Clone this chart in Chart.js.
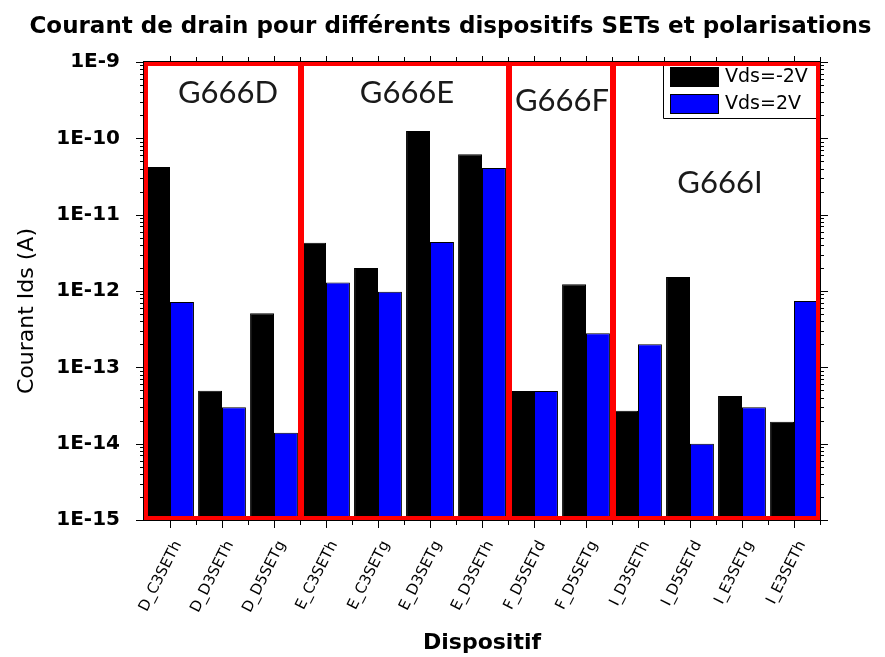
<!DOCTYPE html>
<html lang="fr">
<head>
  <meta charset="UTF-8">
  <title>Courant de drain</title>
  <script src="https://cdn.jsdelivr.net/npm/chart.js"></script>
  <style>
    body { margin: 0; background: #fff; }
    #wrap { width: 885px; height: 657px; }
  </style>
</head>
<body>
<div id="wrap">
  <canvas id="chart" width="885" height="657"></canvas>
</div>

<script>
// devices (x categories)
const devices = ['D_C3SETh', 'D_D3SETh', 'D_D5SETg', 'E_C3SETh', 'E_C3SETg', 'E_D3SETg', 'E_D3SETh',
                 'F_D5SETd', 'F_D5SETg', 'I_D3SETh', 'I_D5SETd', 'I_E3SETg', 'I_E3SETh'];

// drain current (A) for each bias
const idsNeg = [4.2e-11, 4.95e-14, 5.1e-13, 4.3e-12, 2.0e-12, 1.25e-10, 6.2e-11,
                4.9e-14, 1.23e-12, 2.7e-14, 1.52e-12, 4.2e-14, 1.94e-14];
const idsPos = [7.2e-13, 3.0e-14, 1.39e-14, 1.29e-12, 9.8e-13, 4.4e-12, 4.1e-11,
                4.9e-14, 2.8e-13, 2.0e-13, 1.0e-14, 3.0e-14, 7.4e-13];

// wafer groups: name, first and last device index
const groupNames = ['G666D', 'G666E', 'G666F', 'G666I'];
const groupFirst = [0, 3, 7, 9];
const groupLast  = [2, 6, 8, 12];

// decades shown on the y axis
const decades = [-15, -14, -13, -12, -11, -10, -9];

const chartTitle = 'Courant de drain pour différents dispositifs SETs et polarisations';
const yTitle = 'Courant Ids (A)';

const SANS = '"DejaVu Sans", Arial, sans-serif';

// frame, ticks, red group boxes, legend, group names and titles
const decorations = {
  id: 'decorations',
  afterDatasetsDraw(chart) {
    const { ctx, chartArea: a, scales: { x, y } } = chart;
    ctx.save();

    // main title, centred on the page
    ctx.font = 'bold 23px ' + SANS;
    ctx.fillStyle = '#000';
    ctx.textAlign = 'center';
    ctx.textBaseline = 'middle';
    ctx.fillText(chartTitle, chart.width / 2 + 8, 27);

    // black frame
    ctx.strokeStyle = '#000';
    ctx.lineWidth = 1;
    ctx.strokeRect(a.left - 0.5, a.top - 0.5, a.right - a.left + 1, a.bottom - a.top + 1);

    // log ticks on left and right
    ctx.beginPath();
    decades.forEach((e, i) => {
      const py = Math.round(y.getPixelForValue(Math.pow(10, e))) + 0.5;
      ctx.moveTo(a.left - 8, py); ctx.lineTo(a.left, py);
      ctx.moveTo(a.right, py); ctx.lineTo(a.right + 8, py);
      if (i < decades.length - 1) {
        for (let m = 2; m <= 9; m++) {
          const my = Math.round(y.getPixelForValue(m * Math.pow(10, e))) + 0.5;
          ctx.moveTo(a.left - 4, my); ctx.lineTo(a.left, my);
          ctx.moveTo(a.right, my); ctx.lineTo(a.right + 4, my);
        }
      }
    });

    // category ticks on bottom and top
    const step = x.getPixelForValue(1) - x.getPixelForValue(0);
    devices.forEach((d, i) => {
      const px = Math.round(x.getPixelForValue(i)) + 0.5;
      ctx.moveTo(px, a.bottom); ctx.lineTo(px, a.bottom + 8);
      ctx.moveTo(px, a.top); ctx.lineTo(px, a.top - 6);
      const bx = Math.round(x.getPixelForValue(i) + step / 2) + 0.5;
      ctx.moveTo(bx, a.bottom); ctx.lineTo(bx, a.bottom + 5);
      ctx.moveTo(bx, a.top); ctx.lineTo(bx, a.top - 5);
    });
    ctx.stroke();

    // y axis title, set a little below the middle
    ctx.save();
    ctx.translate(27, (a.top + a.bottom) / 2 + 20);
    ctx.rotate(-Math.PI / 2);
    ctx.font = '22px ' + SANS;
    ctx.fillText(yTitle, 0, 0);
    ctx.restore();

    // legend box, inside top right corner
    const lx = a.right - 157, ly = a.top + 56;
    ctx.beginPath();
    ctx.moveTo(lx + 0.5, a.top); ctx.lineTo(lx + 0.5, ly + 0.5); ctx.lineTo(a.right, ly + 0.5);
    ctx.stroke();
    ctx.font = '19px ' + SANS;
    ctx.textAlign = 'left';
    chart.data.datasets.forEach((ds, i) => {
      const sy = a.top + 5 + i * 27;
      ctx.fillStyle = ds.backgroundColor;
      ctx.fillRect(lx + 7, sy, 49, 20);
      ctx.strokeRect(lx + 7.5, sy + 0.5, 48, 19);
      ctx.fillStyle = '#000';
      ctx.fillText(ds.label, lx + 62, sy + 10);
    });

    // red group boxes
    ctx.strokeStyle = '#ff0000';
    ctx.lineWidth = 4;
    const labelDx = [6, 3, 2, 4];
    const labelY = [31, 31, 39, 121];
    groupNames.forEach((name, g) => {
      const x0 = x.getPixelForValue(groupFirst[g]) - step / 2;
      const x1 = x.getPixelForValue(groupLast[g]) + step / 2;
      ctx.strokeRect(x0 + 2, a.top + 2, x1 - x0 - 4 + (g === groupNames.length - 1 ? 0 : 2), a.bottom - a.top - 4);
      ctx.fillStyle = '#1a1a1a';
      ctx.font = '31px Lato, "Open Sans", sans-serif';
      ctx.textAlign = 'center';
      ctx.fillText(name, (x0 + x1) / 2 + labelDx[g], a.top + labelY[g]);
    });

    ctx.restore();
  }
};

new Chart(document.getElementById('chart'), {
  type: 'bar',
  data: {
    labels: devices,
    datasets: [
      { label: 'Vds=-2V', data: idsNeg, backgroundColor: '#000000', borderColor: '#000000', borderWidth: 1 },
      { label: 'Vds=2V', data: idsPos, backgroundColor: '#0000ff', borderColor: '#000000', borderWidth: 1 }
    ]
  },
  options: {
    responsive: false,
    animation: false,
    layout: { padding: { left: 0, right: 65, top: 62, bottom: 0 } },
    datasets: { bar: { categoryPercentage: 0.92, barPercentage: 1 } },
    plugins: {
      legend: { display: false },
      tooltip: { enabled: false },
      title: { display: false }
    },
    scales: {
      x: {
        grid: { display: false },
        border: { display: false },
        ticks: {
          color: '#000',
          font: { family: SANS, size: 15 },
          minRotation: 63,
          maxRotation: 63,
          padding: 10,
          labelOffset: 8,
          autoSkip: false
        },
        title: {
          display: true,
          text: 'Dispositif',
          color: '#000',
          font: { family: SANS, size: 22, weight: 'bold' },
          padding: { top: 0, bottom: 1 }
        },
        afterFit(s) { s.height = 137; }
      },
      y: {
        type: 'logarithmic',
        min: 1e-15,
        max: 1e-9,
        grid: { display: false },
        border: { display: false },
        afterBuildTicks(s) {
          s.ticks = decades.map(e => ({ value: Math.pow(10, e) }));
        },
        ticks: {
          color: '#000',
          font: { family: SANS, size: 20, weight: 'bold' },
          padding: 16,
          callback: v => '1E' + Math.round(Math.log10(v))
        },
        afterFit(s) { s.width = 144; }
      }
    }
  },
  plugins: [decorations]
});
</script>
</body>
</html>
